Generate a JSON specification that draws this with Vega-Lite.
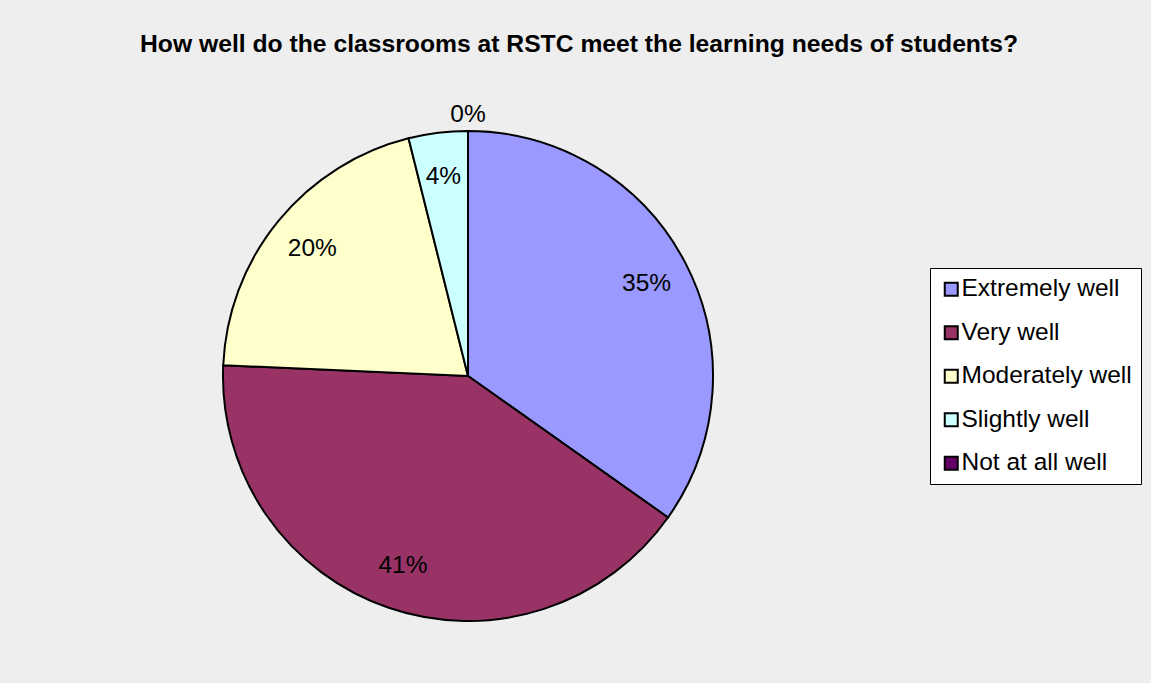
{
  "$schema": "https://vega.github.io/schema/vega-lite/v6.json",
  "autosize": {"type": "none"},
  "width": 490,
  "height": 490,
  "padding": {"left": 223, "top": 131, "right": 438, "bottom": 62},
  "background": "#EEEEEE",
  "title": {
    "text": "How well do the classrooms at RSTC meet the learning needs of students?",
    "font": "Liberation Sans",
    "fontSize": 24.7,
    "fontWeight": "bold",
    "color": "#000000",
    "anchor": "middle",
    "frame": "group",
    "dx": 111,
    "offset": 45
  },
  "data": {
    "values": [
      {"rank": 1, "response": "Extremely well", "share": 0.348},
      {"rank": 2, "response": "Very well", "share": 0.409},
      {"rank": 3, "response": "Moderately well", "share": 0.204},
      {"rank": 4, "response": "Slightly well", "share": 0.039},
      {"rank": 5, "response": "Not at all well", "share": 0.0}
    ]
  },
  "encoding": {
    "theta": {"field": "share", "type": "quantitative", "stack": true},
    "order": {"field": "rank", "type": "quantitative", "sort": "ascending"}
  },
  "layer": [
    {
      "mark": {"type": "arc", "stroke": "#000000", "strokeWidth": 2, "strokeJoin": "miter"},
      "encoding": {
        "color": {
          "field": "response",
          "type": "nominal",
          "sort": ["Extremely well", "Very well", "Moderately well", "Slightly well", "Not at all well"],
          "scale": {
            "domain": ["Extremely well", "Very well", "Moderately well", "Slightly well", "Not at all well"],
            "range": ["#9999FF", "#993366", "#FFFFCC", "#CCFFFF", "#660066"]
          },
          "legend": {
            "title": null,
            "orient": "none",
            "legendX": 707,
            "legendY": 137,
            "padding": 9,
            "strokeColor": "#000000",
            "fillColor": "#FFFFFF",
            "labelFont": "Liberation Sans",
            "labelFontSize": 24.5,
            "labelColor": "#000000",
            "labelOffset": -2,
            "labelLimit": 300,
            "symbolType": "square",
            "symbolSize": 169,
            "symbolStrokeColor": "#000000",
            "symbolStrokeWidth": 2,
            "symbolOpacity": 1,
            "rowPadding": 18.5
          }
        }
      }
    },
    {
      "transform": [{"filter": "datum.share > 0"}],
      "mark": {"type": "text", "radius": 201, "font": "Liberation Sans", "fontSize": 24.5, "color": "#000000", "align": "center", "baseline": "middle"},
      "encoding": {
        "text": {"field": "share", "type": "quantitative", "format": ".0%"}
      }
    },
    {
      "transform": [{"filter": "datum.share == 0"}],
      "mark": {"type": "text", "radius": 261, "font": "Liberation Sans", "fontSize": 24.5, "color": "#000000", "align": "center", "baseline": "middle"},
      "encoding": {
        "text": {"field": "share", "type": "quantitative", "format": ".0%"}
      }
    }
  ],
  "config": {"view": {"stroke": null}}
}
